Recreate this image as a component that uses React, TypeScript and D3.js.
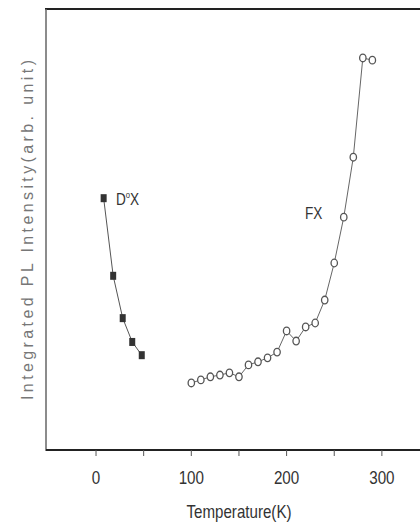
import { line, scaleLinear } from "d3"

// temperatures (K) and integrated intensity (arb. units, 0..100 axis)
const dxTemps = [8, 18, 28, 38, 48]
const dxValues = [57.1, 39.5, 29.9, 24.5, 21.5]

const fxTemps = [100, 110, 120, 130, 140, 150, 160, 170, 180, 190, 200, 210, 220, 230, 240, 250, 260, 270, 280, 290]
const fxValues = [15.2, 15.9, 16.6, 17.0, 17.5, 16.6, 19.3, 20.0, 20.9, 22.2, 27.0, 24.7, 27.9, 28.8, 34.0, 42.4, 52.8, 66.4, 88.9, 88.4]

const xTickLabels = [0, 100, 200, 300]
const xMinorTicks = [50, 150, 250]

const sans = "'Liberation Sans', Arial, sans-serif"

const App = () => {
    const width = 420
    const height = 526

    const x = scaleLinear().domain([-52.5, 340]).range([46, 420])
    const y = scaleLinear().domain([0, 100]).range([450, 9])

    const path = line<[number, number]>()
        .x(d => x(d[0]))
        .y(d => y(d[1]))

    const dxPts: [number, number][] = dxTemps.map((t, i) => [t, dxValues[i]])
    const fxPts: [number, number][] = fxTemps.map((t, i) => [t, fxValues[i]])

    return (
        <svg width={width} height={height} style={{ position: "absolute", left: 0, top: 0, background: "#fff" }}>
            {/* frame */}
            <line x1={45} x2={420} y1={9} y2={9} stroke="#222" strokeWidth={2} />
            <line x1={46} x2={46} y1={9} y2={451} stroke="#666" strokeWidth={1.5} />
            <line x1={46} x2={420} y1={450} y2={450} stroke="#222" strokeWidth={2} />

            {/* x ticks */}
            {[...xTickLabels, ...xMinorTicks].map(t => (
                <line key={"t" + t} x1={x(t)} x2={x(t)} y1={450} y2={456} stroke="#555" strokeWidth={1} />
            ))}
            {xTickLabels.map(t => (
                <text key={"l" + t} transform={`translate(${x(t)},484) scale(0.8,1)`} textAnchor="middle"
                    fontFamily={sans} fontSize={19} fill="#333">{t}</text>
            ))}

            <text x={239} y={518} textAnchor="middle" fontFamily={sans} fontSize={19} fill="#333"
                textLength={105} lengthAdjust="spacingAndGlyphs">
                Temperature(K)
            </text>

            <text transform="translate(33,230) rotate(-90)" textAnchor="middle" fontFamily={sans}
                fontSize={16} fill="#777" textLength={340} lengthAdjust="spacing">
                Integrated PL Intensity(arb. unit)
            </text>

            {/* lines */}
            <path d={path(dxPts) ?? ""} fill="none" stroke="#555" strokeWidth={1} />
            <path d={path(fxPts) ?? ""} fill="none" stroke="#666" strokeWidth={1} />

            {/* markers */}
            {dxPts.map(([t, v], i) => (
                <rect key={"dx" + i} x={x(t) - 3} y={y(v) - 4} width={6} height={8} fill="#333" />
            ))}
            {fxPts.map(([t, v], i) => (
                <ellipse key={"fx" + i} cx={x(t)} cy={y(v)} rx={3.2} ry={3.8} fill="#fff" stroke="#555" strokeWidth={1.3} />
            ))}

            {/* series labels */}
            <g transform="translate(116,205) scale(0.85,1)">
                <text x={0} y={0} fontFamily={sans} fontSize={16} fill="#333">
                    D<tspan fontSize={9} dy={-7}>o</tspan><tspan dy={7}>X</tspan>
                </text>
            </g>
            <text transform="translate(305,219) scale(0.85,1)" fontFamily={sans} fontSize={16} fill="#333">FX</text>
        </svg>
    )
}

export default App
